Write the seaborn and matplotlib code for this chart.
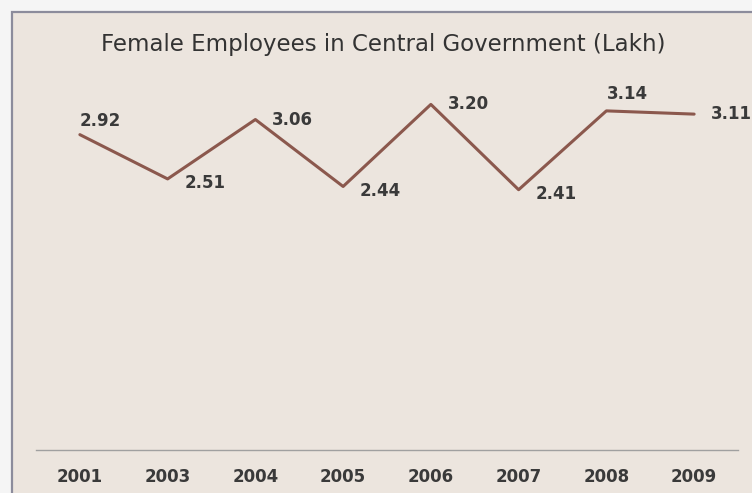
import matplotlib
matplotlib.use("Agg")
import matplotlib.pyplot as plt
import seaborn as sns
import pandas as pd
from matplotlib.patches import Rectangle

years = ["2001", "2003", "2004", "2005", "2006", "2007", "2008", "2009"]
values = [2.92, 2.51, 3.06, 2.44, 3.20, 2.41, 3.14, 3.11]
label_text = ["2.92", "2.51", "3.06", "2.44", "3.20", "2.41", "3.14", "3.11"]
title = "Female Employees in Central Government (Lakh)"

# label offsets in points (dx, dy), style only
offsets = [(0, 10), (12, -3), (12, 0), (12, -3), (12, 0), (12, -3), (0, 12), (12, 0)]

sns.set_theme(style="white")
plt.rcParams["font.family"] = ["DejaVu Sans"]

bg = "#ECE5DE"
fig = plt.figure(figsize=(7.52, 4.93), dpi=100)
fig.patch.set_facecolor("#F5F5F5")
panel = Rectangle((12 / 752, -0.1), 1.2, 1 - 12 / 493 + 0.1, transform=fig.transFigure,
                  facecolor=bg, edgecolor="#8C8C9C", linewidth=1.6, zorder=-5)
fig.patches.append(panel)

ax = fig.add_axes([36 / 752, 1 - 450 / 493, (738 - 36) / 752, (450 - 72) / 493])
ax.set_zorder(2)
ax.set_facecolor("none")

df = pd.DataFrame({"year": years, "value": values})
sns.lineplot(data=df, x="year", y="value", sort=False, color="#8B584D", linewidth=2.2, ax=ax)

ax.set_xlim(-0.5, len(years) - 0.5)
ax.set_ylim(0, 3.5)
ax.set_xlabel("")
ax.set_ylabel("")
ax.set_yticks([])
for s in ["left", "right", "top"]:
    ax.spines[s].set_visible(False)
ax.spines["bottom"].set_color("#A0A0A0")
ax.spines["bottom"].set_linestyle((0, (2, 1)))
ax.spines["bottom"].set_linewidth(1.0)
ax.tick_params(axis="x", length=0, pad=13, labelsize=12, labelcolor="#3A3A3A")
for t in ax.get_xticklabels():
    t.set_fontweight("bold")

for i, (v, lab) in enumerate(zip(values, label_text)):
    dx, dy = offsets[i]
    ax.annotate(lab, (i, v), xytext=(dx, dy), textcoords="offset points",
                ha="left", va="center", fontsize=12, color="#3A3A3A", fontweight="bold",
                annotation_clip=False)

fig.text(383 / 752, 1 - 45 / 493, title, ha="center", va="center", fontsize=16.5, color="#333333")

fig.savefig("out.png", dpi=100, facecolor=fig.get_facecolor())
